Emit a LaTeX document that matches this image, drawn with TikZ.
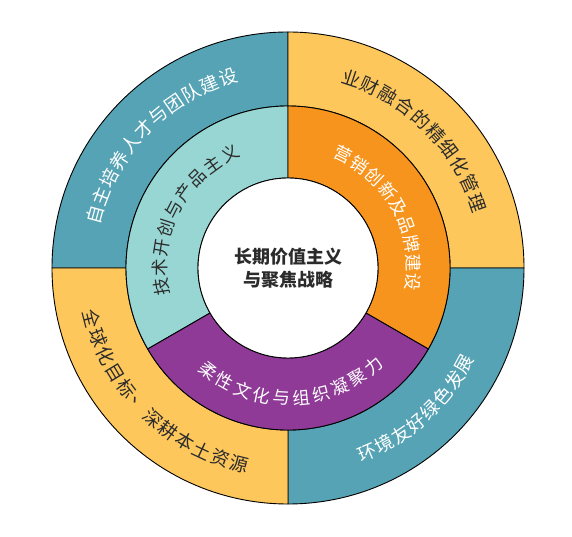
\documentclass[tikz,border=0pt]{standalone}
\usepackage{fontspec}
\setmainfont{Noto Sans CJK SC}
\usetikzlibrary{positioning}

\definecolor{outerteal}{HTML}{55A3B4}
\definecolor{outeryellow}{HTML}{FEC75C}
\definecolor{innerteal}{HTML}{98D6D4}
\definecolor{innerorange}{HTML}{F7941D}
\definecolor{innerpurple}{HTML}{8E3A96}
\definecolor{darktext}{HTML}{2B2B2B}

% characters set one by one along an arc: name, start angle, step, radius, rotation offset, list
\newcommand{\arctext}[6]{%
  \foreach \ch [count=\i from 0] in {#6}{%
    \pgfmathsetmacro{\ang}{#2+\i*(#3)}
    \pgfmathsetmacro{\rot}{\ang+#5}
    \node[rotate=\rot] (#1-\i) at (\ang:#4) {\ch};
  }%
}

\tikzset{
  sector/.style={draw=black, line width=0.9pt},
  ringchar/.style={font=\fontsize{18.5}{18.5}\selectfont, inner sep=0pt},
  midchar/.style={font=\fontsize{17.5}{17.5}\selectfont, inner sep=0pt},
}

\begin{document}
\begin{tikzpicture}[x=1pt,y=1pt]
\useasboundingbox (0,0) rectangle (572,537);
\begin{scope}[shift={(288,269)}]

% Outer ring
\foreach \a/\b/\col in {90/180/outerteal, 0/90/outeryellow, -90/0/outerteal, 180/270/outeryellow}
  \draw[sector, fill=\col] (\a:162) -- (\a:236) arc[start angle=\a, end angle=\b, radius=236]
    -- (\b:162) arc[start angle=\b, end angle=\a, radius=162] -- cycle;

% Middle ring
\foreach \a/\b/\col in {90/210/innerteal, -30/90/innerorange, 210/330/innerpurple}
  \draw[sector, fill=\col] (\a:90) -- (\a:162) arc[start angle=\a, end angle=\b, radius=162]
    -- (\b:90) arc[start angle=\b, end angle=\a, radius=90] -- cycle;

% Centre
\draw[sector, fill=white] (0,0) circle (90);
\node[align=center, text=darktext, font=\bfseries\fontsize{18}{23}\selectfont] (core) at (0,0)
  {长期价值主义\\与聚焦战略};

% Outer labels
\begin{scope}[every node/.style={ringchar}]
  \begin{scope}[text=white]
    \arctext{talent}{164.6}{-5.71}{200}{-90}{自,主,培,养,人,才,与,团,队,建,设}
    \arctext{green}{-66.8}{5.47}{201}{90}{环,境,友,好,绿,色,发,展}
  \end{scope}
  \begin{scope}[text=darktext]
    \arctext{finance}{71.6}{-5.84}{200}{-90}{业,财,融,合,的,精,细,化,管,理}
    \arctext{global}{194.5}{5.59}{202}{90}{全,球,化,目,标,、,深,耕,本,土,资,源}
  \end{scope}
\end{scope}

% Middle labels
\begin{scope}[every node/.style={midchar}]
  \begin{scope}[text=darktext]
    \arctext{tech}{188.7}{-8.96}{128}{-90}{技,术,开,创,与,产,品,主,义}
  \end{scope}
  \begin{scope}[text=white]
    \arctext{brand}{64}{-8.8}{126}{-90}{营,销,创,新,及,品,牌,建,设}
    \arctext{culture}{232}{8.78}{130}{90}{柔,性,文,化,与,组,织,凝,聚,力}
  \end{scope}
\end{scope}

\end{scope}
\end{tikzpicture}
\end{document}
